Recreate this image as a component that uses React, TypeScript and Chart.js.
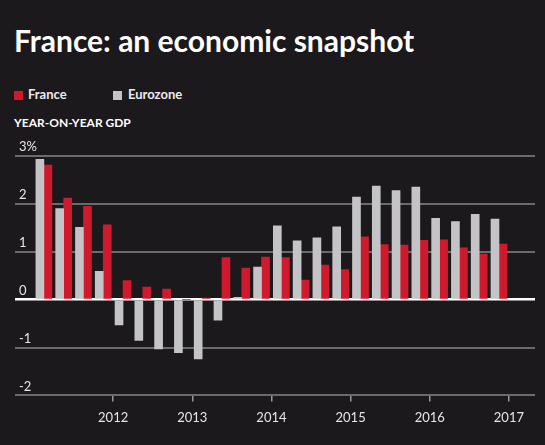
import { useEffect, useRef } from "react";
import Chart from "chart.js/auto";

// quarterly year-on-year GDP growth, %
const quarters = [
  "2011 Q1", "2011 Q2", "2011 Q3", "2011 Q4",
  "2012 Q1", "2012 Q2", "2012 Q3", "2012 Q4",
  "2013 Q1", "2013 Q2", "2013 Q3", "2013 Q4",
  "2014 Q1", "2014 Q2", "2014 Q3", "2014 Q4",
  "2015 Q1", "2015 Q2", "2015 Q3", "2015 Q4",
  "2016 Q1", "2016 Q2", "2016 Q3", "2016 Q4",
];
const france = [
  2.81, 2.12, 1.95, 1.56, 0.4, 0.26, 0.22, 0.0, 0.03, 0.88, 0.66, 0.89,
  0.88, 0.41, 0.72, 0.63, 1.31, 1.15, 1.14, 1.24, 1.25, 1.08, 0.95, 1.16,
];
const eurozone = [
  2.93, 1.9, 1.51, 0.59, -0.53, -0.85, -1.03, -1.11, -1.24, -0.43, 0.05, 0.68,
  1.54, 1.23, 1.29, 1.52, 2.14, 2.37, 2.28, 2.35, 1.7, 1.63, 1.78, 1.68,
];
const yearTicks = [2012, 2013, 2014, 2015, 2016, 2017];
const yTicks = [-2, -1, 0, 1, 2, 3];

const RED = "#cf1a2e";
const GREY = "#c4c4c6";
const BG = "#1b191c";
const FONT = "Lato, 'Noto Sans', sans-serif";

// "2013 Q2" -> middle of that quarter as a decimal year
const quarterToYear = (q: string) => {
  const [y, qq] = q.split(" Q");
  return Number(y) + (Number(qq) - 0.5) / 4;
};

function GdpChart() {
  const chartRef = useRef<HTMLCanvasElement | null>(null);
  const chartInstance = useRef<Chart | null>(null);

  useEffect(() => {
    if (!chartRef.current) return;
    const ctx = chartRef.current.getContext("2d");
    if (!ctx) return;

    if (chartInstance.current) {
      chartInstance.current.destroy();
    }

    chartInstance.current = new Chart(ctx, {
      type: "bar",
      data: {
        datasets: [
          {
            label: "Eurozone",
            data: quarters.map((q, i) => ({ x: quarterToYear(q), y: eurozone[i] })),
            backgroundColor: GREY,
            barThickness: 8,
          },
          {
            label: "France",
            data: quarters.map((q, i) => ({ x: quarterToYear(q), y: france[i] })),
            backgroundColor: RED,
            barThickness: 8,
          },
        ],
      },
      options: {
        animation: false,
        responsive: false,
        maintainAspectRatio: false,
        // y axis is 2 * tick padding wide even with mirrored labels
        layout: {
          padding: { top: 156, left: 7, right: 10, bottom: 11 },
        },
        scales: {
          x: {
            type: "linear",
            min: 2010.76,
            max: 2017.33,
            offset: false,
            afterBuildTicks: (scale) => {
              scale.ticks = yearTicks.map((v) => ({ value: v }));
            },
            grid: {
              offset: false,
              drawOnChartArea: false,
              drawTicks: true,
              tickLength: 6,
              color: "#9a9a9a",
              lineWidth: 1.5,
            },
            border: { display: false },
            ticks: {
              color: "#e6e6e6",
              font: { family: FONT, size: 13 },
              padding: 8.5,
              maxRotation: 0,
              callback: (v) => String(v),
            },
          },
          y: {
            min: -2,
            max: 3,
            afterBuildTicks: (scale) => {
              scale.ticks = yTicks.map((v) => ({ value: v }));
            },
            grid: {
              drawTicks: false,
              color: (c) => (c.tick && c.tick.value === 0 ? "#ffffff" : "#6b6b6b"),
              lineWidth: (c) => (c.tick && c.tick.value === 0 ? 2.5 : 2),
            },
            border: { display: false },
            ticks: {
              mirror: true,
              padding: 4,
              labelOffset: -9,
              color: "#e6e6e6",
              font: { family: FONT, size: 13 },
              callback: (v) => (Number(v) === 3 ? "3%" : String(v)),
            },
          },
        },
        plugins: {
          legend: { display: false },
          tooltip: { enabled: false },
        },
      },
    });

    return () => {
      if (chartInstance.current) {
        chartInstance.current.destroy();
        chartInstance.current = null;
      }
    };
  }, []);

  return (
    <canvas
      ref={chartRef}
      width={545}
      height={445}
      style={{ position: "absolute", left: 0, top: 0, width: 545, height: 445 }}
    />
  );
}

const swatch = (color: string, left: number) => (
  <div
    style={{
      position: "absolute",
      left,
      top: 91,
      width: 9,
      height: 9,
      background: color,
    }}
  />
);

const legendText = (text: string, left: number) => (
  <div
    style={{
      position: "absolute",
      left,
      top: 88,
      fontFamily: FONT,
      fontWeight: 700,
      fontSize: 13,
      lineHeight: "13px",
      color: "#ececec",
      whiteSpace: "nowrap",
    }}
  >
    {text}
  </div>
);

export default function App() {
  return (
    <div
      style={{
        position: "absolute",
        left: 0,
        top: 0,
        width: 545,
        height: 445,
        background: BG,
        overflow: "hidden",
      }}
    >
      <div
        style={{
          position: "absolute",
          left: 14,
          top: 25,
          fontFamily: FONT,
          fontWeight: 700,
          fontSize: 30,
          lineHeight: "30px",
          color: "#ffffff",
          whiteSpace: "nowrap",
        }}
      >
        France: an economic snapshot
      </div>
      {swatch(RED, 14)}
      {legendText("France", 28)}
      {swatch(GREY, 113)}
      {legendText("Eurozone", 128)}
      <div
        style={{
          position: "absolute",
          left: 14,
          top: 116.5,
          fontFamily: FONT,
          fontWeight: 700,
          fontSize: 12,
          lineHeight: "12px",
          color: "#ffffff",
          whiteSpace: "nowrap",
        }}
      >
        YEAR-ON-YEAR GDP
      </div>
      <GdpChart />
    </div>
  );
}
